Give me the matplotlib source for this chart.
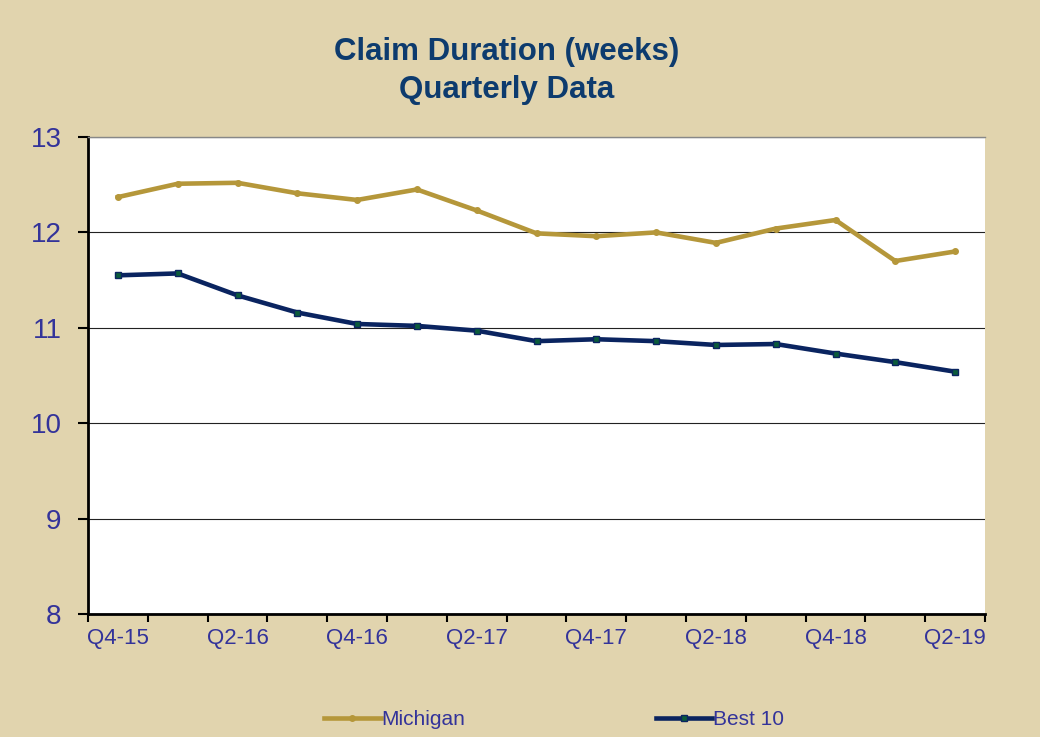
import matplotlib
matplotlib.use("Agg")
import matplotlib.pyplot as plt
import numpy as np

quarters = ["Q4-15", "Q1-16", "Q2-16", "Q3-16", "Q4-16", "Q1-17", "Q2-17", "Q3-17",
            "Q4-17", "Q1-18", "Q2-18", "Q3-18", "Q4-18", "Q1-19", "Q2-19"]
michigan = [12.37, 12.51, 12.52, 12.41, 12.34, 12.45, 12.23, 11.99,
            11.96, 12.00, 11.89, 12.04, 12.13, 11.70, 11.80]
best10 = [11.55, 11.57, 11.34, 11.16, 11.04, 11.02, 10.97, 10.86,
          10.88, 10.86, 10.82, 10.83, 10.73, 10.64, 10.54]

BG = "#E1D4AE"
TICK_COLOR = "#33339A"
plt.rcParams['font.family'] = ['Liberation Sans', 'DejaVu Sans']

fig = plt.figure(figsize=(10.4, 7.37), dpi=100)
fig.patch.set_facecolor(BG)
ax = fig.add_axes([88/1040, 1-614/737, (985-88)/1040, (614-137)/737])
ax.set_facecolor("white")

x = np.arange(len(quarters))
ax.plot(x, michigan, color="#B5973A", lw=3.3, marker="o", ms=4,
        markerfacecolor="#B5973A", markeredgecolor="#B5973A", label="Michigan", zorder=3)
ax.plot(x, best10, color="#0A2460", lw=3.3, marker="s", ms=4.5,
        markerfacecolor="#0B5B3A", markeredgecolor="#0A2460", markeredgewidth=1,
        label="Best 10", zorder=3)

ax.set_xlim(-0.5, len(quarters) - 0.5)
ax.set_ylim(8, 13)
ax.set_yticks([8, 9, 10, 11, 12, 13])
ax.yaxis.grid(True, color="#222222", lw=0.8)
ax.set_axisbelow(True)

ax.set_xticks(np.arange(-0.5, len(quarters), 1.0), minor=False)
ax.set_xticklabels([])
ax.set_xticks(x[::2], minor=True)
ax.set_xticklabels([quarters[i] for i in x[::2]], minor=True)
ax.tick_params(axis='x', which='major', direction='out', length=6, width=1.5, color='black')
ax.tick_params(axis='x', which='minor', length=0, pad=10, labelsize=16, labelcolor=TICK_COLOR)
ax.tick_params(axis='y', direction='out', length=7, width=1.5, color='black',
               labelsize=20, labelcolor=TICK_COLOR, pad=12)

for s in ['left', 'bottom']:
    ax.spines[s].set_linewidth(2)
    ax.spines[s].set_color('black')
ax.spines['right'].set_visible(False)
ax.spines['top'].set_color('#888888')
ax.spines['top'].set_linewidth(1)

fig.text(0.487, 0.950, "Claim Duration (weeks)\nQuarterly Data", ha='center', va='top',
         fontsize=22.5, fontweight='bold', color="#0D3B6E", linespacing=1.35)

leg = fig.legend(loc='lower center', bbox_to_anchor=(0.533, -0.015), ncol=2, frameon=False,
                 fontsize=15, handlelength=2.7, handletextpad=0.05, columnspacing=9.15)
for t in leg.get_texts():
    t.set_color(TICK_COLOR)

fig.savefig("out.png", dpi=100, facecolor=BG)
